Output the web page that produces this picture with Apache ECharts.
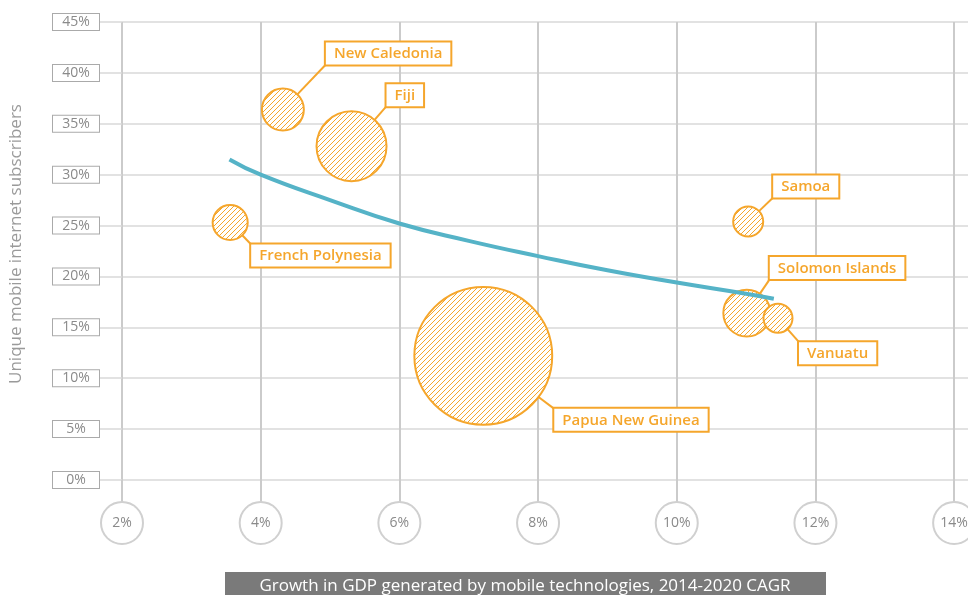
<!DOCTYPE html>
<html>
<head>
<meta charset="utf-8">
<title>Mobile internet subscribers vs GDP growth</title>
<script src="https://cdn.jsdelivr.net/npm/echarts@6/dist/echarts.min.js"></script>
<style>
html, body { margin: 0; padding: 0; background: #fff; }
#chart { width: 968px; height: 595px; }
</style>
</head>
<body>
<div id="chart"></div>
<script>
// values
var countries = ['New Caledonia', 'Fiji', 'French Polynesia', 'Papua New Guinea', 'Samoa', 'Solomon Islands', 'Vanuatu'];
var gdpGrowth = [4.32, 5.31, 3.56, 7.21, 11.03, 11.01, 11.46];
var subscribers = [36.4, 32.8, 25.3, 12.2, 25.4, 16.4, 15.9];
var bubbleSize = [17.6, 49, 12.3, 190, 9, 22, 8.4];

// trend curve
var trendX = [3.55, 4, 5, 6, 7, 8, 9, 10, 11, 11.4];
var trendY = [31.5, 30.0, 27.5, 25.2, 23.5, 22.0, 20.6, 19.4, 18.3, 17.8];

var xTicks = [2, 4, 6, 8, 10, 12, 14];

// label box corner, pixels from bubble centre (layout only)
var labelAnchor = [[43, -45], [35, -40], [21, 22], [71, 53], [25, -24], [23, -34], [21, 24]];

var ORANGE = '#f5a62c';
var LABEL_FONT = '600 15px "Open Sans"';

// hatch pattern for the bubbles
var hatch = document.createElement('canvas');
var s = 5;
hatch.width = s; hatch.height = s;
var hc = hatch.getContext('2d');
hc.fillStyle = '#fff';
hc.fillRect(0, 0, s, s);
hc.strokeStyle = ORANGE;
hc.lineWidth = 1;
hc.beginPath();
hc.moveTo(0, s); hc.lineTo(s, 0);
hc.moveTo(-1, 1); hc.lineTo(1, -1);
hc.moveTo(s - 1, s + 1); hc.lineTo(s + 1, s - 1);
hc.stroke();

var bubbleData = countries.map(function (c, i) {
    return [gdpGrowth[i], subscribers[i], bubbleSize[i]];
});
var trendData = trendX.map(function (x, i) { return [x, trendY[i]]; });

var chart = echarts.init(document.getElementById('chart'));

var option = {
    animation: false,
    grid: { left: 122, right: 0, top: 22, bottom: 115, outerBoundsMode: 'none' },
    xAxis: {
        type: 'value',
        min: 2,
        max: 14.2,
        interval: 2,
        axisLine: { show: false },
        axisTick: {
            show: true, length: 23, customValues: xTicks,
            lineStyle: { color: '#cbcbcb', width: 2 }
        },
        splitLine: { lineStyle: { color: '#cbcbcb', width: 2 } },
        axisLabel: {
            customValues: xTicks,
            formatter: '{value}%',
            color: '#8a8a8a',
            fontFamily: 'Open Sans',
            fontSize: 14,
            width: 40, height: 40, lineHeight: 40,
            align: 'center', verticalAlign: 'top',
            borderRadius: 21, borderWidth: 2, borderColor: '#d0d0d0',
            backgroundColor: '#fff',
            margin: 23
        }
    },
    yAxis: {
        type: 'value',
        min: 0,
        max: 45,
        interval: 5,
        axisLine: { show: false },
        axisTick: { show: true, length: 22, lineStyle: { color: '#d9d9d9', width: 1.5 } },
        splitLine: { lineStyle: { color: '#d9d9d9', width: 1.5 } },
        axisLabel: {
            formatter: '{value}%',
            color: '#8a8a8a',
            fontFamily: 'Open Sans',
            fontSize: 14,
            width: 46, height: 16, lineHeight: 16,
            align: 'center',
            borderWidth: 1, borderColor: '#aaaaaa',
            backgroundColor: '#fff',
            margin: 46
        }
    },
    graphic: [
        {
            type: 'text',
            x: 16, y: 244,
            rotation: Math.PI / 2,
            style: {
                text: 'Unique mobile internet subscribers',
                fill: '#9a9a9a', font: '17px "Open Sans"', align: 'center', verticalAlign: 'middle'
            }
        },
        {
            type: 'group',
            left: 225,
            top: 572,
            children: [
                { type: 'rect', shape: { x: 0, y: 0, width: 601, height: 30 }, style: { fill: '#7a7a7a' } },
                {
                    type: 'text', x: 300, y: 14,
                    style: {
                        text: 'Growth in GDP generated by mobile technologies, 2014-2020 CAGR',
                        fill: '#fff', font: '17px "Open Sans"', align: 'center', verticalAlign: 'middle'
                    }
                }
            ]
        }
    ],
    series: [
        {
            type: 'custom',
            z: 2,
            data: bubbleData,
            encode: { x: 0, y: 1 },
            renderItem: function (params, api) {
                var i = params.dataIndex;
                var c = api.coord([api.value(0), api.value(1)]);
                var r = Math.sqrt(api.value(2)) * 5;
                var a = labelAnchor[i];
                var len = Math.sqrt(a[0] * a[0] + a[1] * a[1]);
                var ex = c[0] + a[0] / len * r;
                var ey = c[1] + a[1] / len * r;
                var lx = c[0] + a[0];
                var ly = c[1] + a[1];
                return {
                    type: 'group',
                    children: [
                        {
                            type: 'line',
                            shape: { x1: ex, y1: ey, x2: lx, y2: ly },
                            style: { stroke: ORANGE, lineWidth: 2 }
                        },
                        {
                            type: 'circle',
                            shape: { cx: c[0], cy: c[1], r: r },
                            style: { fill: { image: hatch, repeat: 'repeat' }, stroke: ORANGE, lineWidth: 2 }
                        },
                        {
                            type: 'text',
                            x: lx, y: ly,
                            style: {
                                text: countries[i],
                                font: LABEL_FONT,
                                fill: ORANGE,
                                align: 'left',
                                verticalAlign: a[1] < 0 ? 'bottom' : 'top',
                                backgroundColor: '#fff',
                                borderColor: ORANGE,
                                borderWidth: 2,
                                padding: [4, 8, 3, 8]
                            }
                        }
                    ]
                };
            }
        },
        {
            type: 'line',
            z: 3,
            data: trendData,
            smooth: true,
            symbol: 'none',
            lineStyle: { color: '#55b3c7', width: 4 }
        }
    ]
};

chart.setOption(option);
</script>
</body>
</html>
